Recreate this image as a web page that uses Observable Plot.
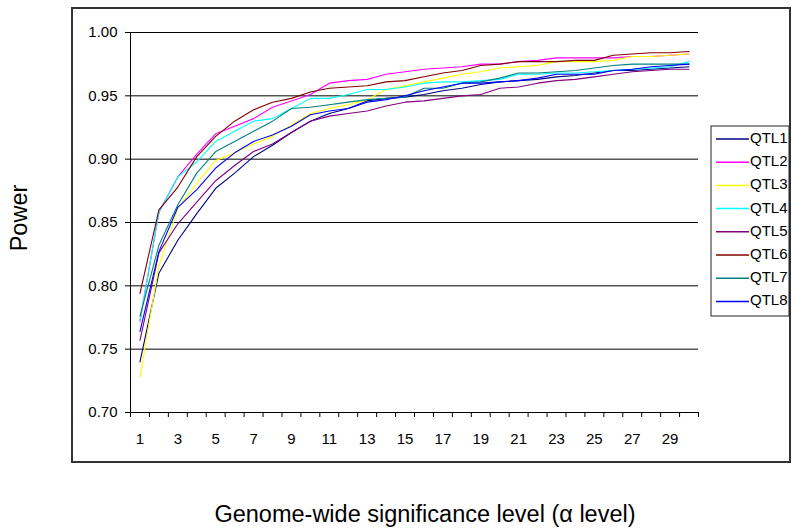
<!DOCTYPE html>
<html>
<head>
<meta charset="utf-8">
<script src="https://cdn.jsdelivr.net/npm/d3@7"></script>
<script src="https://cdn.jsdelivr.net/npm/@observablehq/plot@0.6"></script>
<style>
  body { margin: 0; background: #fff; }
  #chart { position: relative; width: 792px; height: 529px; }
</style>
</head>
<body>
<div id="chart"></div>
<script>
// ---- data ----
const alphaLevels = [1,2,3,4,5,6,7,8,9,10,11,12,13,14,15,16,17,18,19,20,21,22,23,24,25,26,27,28,29,30];
const seriesNames = ["QTL1","QTL2","QTL3","QTL4","QTL5","QTL6","QTL7","QTL8"];
const seriesColors = ["#000080","#FF00FF","#FFFF00","#00FFFF","#800080","#800000","#008080","#0000FF"];
const yTicks = [0.70, 0.75, 0.80, 0.85, 0.90, 0.95, 1.00];
const xTickLabels = [1,3,5,7,9,11,13,15,17,19,21,23,25,27,29];

const qtl1 = [0.740,0.810,0.836,0.857,0.877,0.889,0.902,0.911,0.921,0.930,0.936,0.940,0.946,0.948,0.949,0.951,0.954,0.956,0.959,0.961,0.962,0.963,0.965,0.966,0.968,0.970,0.970,0.971,0.972,0.973];
const qtl2 = [0.772,0.858,0.886,0.904,0.920,0.926,0.932,0.941,0.946,0.951,0.960,0.962,0.963,0.967,0.969,0.971,0.972,0.973,0.975,0.975,0.977,0.978,0.980,0.980,0.980,0.980,0.981,0.981,0.982,0.983];
const qtl3 = [0.728,0.816,0.861,0.881,0.899,0.905,0.912,0.918,0.927,0.936,0.940,0.943,0.947,0.955,0.958,0.961,0.964,0.967,0.969,0.972,0.973,0.974,0.977,0.977,0.977,0.978,0.981,0.981,0.982,0.983];
const qtl4 = [0.773,0.858,0.886,0.898,0.914,0.922,0.930,0.932,0.940,0.948,0.948,0.951,0.955,0.955,0.957,0.960,0.961,0.961,0.962,0.963,0.967,0.967,0.968,0.968,0.969,0.970,0.971,0.972,0.973,0.977];
const qtl5 = [0.757,0.826,0.849,0.866,0.883,0.895,0.906,0.912,0.921,0.930,0.934,0.936,0.938,0.942,0.945,0.946,0.948,0.950,0.951,0.956,0.957,0.960,0.962,0.963,0.965,0.967,0.969,0.970,0.971,0.971];
const qtl6 = [0.794,0.860,0.878,0.902,0.918,0.930,0.939,0.945,0.948,0.953,0.956,0.957,0.958,0.961,0.962,0.965,0.968,0.970,0.974,0.975,0.977,0.977,0.977,0.978,0.978,0.982,0.983,0.984,0.984,0.985];
const qtl7 = [0.776,0.832,0.864,0.889,0.906,0.914,0.922,0.930,0.940,0.941,0.943,0.945,0.947,0.948,0.949,0.956,0.956,0.960,0.961,0.964,0.968,0.968,0.969,0.970,0.972,0.974,0.975,0.975,0.975,0.975];
const qtl8 = [0.764,0.827,0.862,0.876,0.893,0.905,0.914,0.919,0.926,0.935,0.938,0.940,0.945,0.947,0.950,0.954,0.957,0.960,0.960,0.961,0.962,0.964,0.967,0.967,0.967,0.970,0.971,0.973,0.974,0.975];

const xTitle = "Genome-wide significance level (\u03b1 level)";
const yTitle = "Power";

// ---- build ----
const allSeries = [qtl1, qtl2, qtl3, qtl4, qtl5, qtl6, qtl7, qtl8];
const rows = allSeries.flatMap((vals, k) =>
  vals.map((v, i) => ({series: seriesNames[k], alpha: alphaLevels[i], power: v})));
const bandEdges = [...alphaLevels.map(d => d - 0.5), alphaLevels[alphaLevels.length - 1] + 0.5];

const FONT = "'Liberation Sans', Arial, sans-serif";

const plot = Plot.plot({
  width: 792,
  height: 529,
  marginLeft: 130,
  marginRight: 94,
  marginTop: 32,
  marginBottom: 117,
  style: {fontFamily: FONT, fontSize: "15px", color: "black", background: "white", overflow: "visible"},
  x: {domain: [bandEdges[0], bandEdges[bandEdges.length - 1]], axis: null},
  y: {domain: [yTicks[0], yTicks[yTicks.length - 1]], axis: null},
  color: {domain: seriesNames, range: seriesColors},
  marks: [
    Plot.ruleY(yTicks, {stroke: "black", strokeWidth: 1}),
    Plot.ruleX([bandEdges[0]], {stroke: "black", strokeWidth: 1}),
    Plot.axisY({ticks: yTicks, tickFormat: d3.format(".2f"), tickSize: 5, tickPadding: 8, label: null, fontSize: 15}),
    Plot.axisX({ticks: bandEdges, tickFormat: () => "", tickSize: 5, label: null}),
    Plot.axisX({ticks: xTickLabels, tickFormat: d => String(d), tickSize: 0, tickPadding: 21, label: null, fontSize: 15}),
    Plot.lineY(rows, {x: "alpha", y: "power", z: "series", stroke: "series", strokeWidth: 1.1})
  ]
});

const svg = d3.select(plot);
// chart-area frame
svg.append("rect")
  .attr("x", 72).attr("y", 8).attr("width", 718).attr("height", 454)
  .attr("fill", "none").attr("stroke", "#333").attr("stroke-width", 2);

// axis titles
svg.append("text")
  .attr("x", 425).attr("y", 516)
  .attr("text-anchor", "middle").attr("dominant-baseline", "middle")
  .style("font-family", FONT).style("font-size", "23.5px").attr("fill", "black")
  .text(xTitle);
svg.append("text")
  .attr("transform", "translate(21,218) rotate(-90)")
  .attr("text-anchor", "middle").attr("dominant-baseline", "middle")
  .style("font-family", FONT).style("font-size", "23.5px").attr("fill", "black")
  .text(yTitle);

// legend
const lg = svg.append("g");
lg.append("rect")
  .attr("x", 711).attr("y", 126).attr("width", 78).attr("height", 190)
  .attr("fill", "white").attr("stroke", "#222").attr("stroke-width", 1);
seriesNames.forEach((name, k) => {
  const cy = 139 + k * 23.2;
  lg.append("line")
    .attr("x1", 716).attr("x2", 749).attr("y1", cy).attr("y2", cy)
    .attr("stroke", seriesColors[k]).attr("stroke-width", 1.5);
  lg.append("text")
    .attr("x", 750).attr("y", cy)
    .attr("text-anchor", "start")
    .attr("dominant-baseline", "middle")
    .style("font-family", FONT).style("font-size", "15px").attr("fill", "black")
    .text(name);
});

document.getElementById("chart").appendChild(plot);
</script>
</body>
</html>
